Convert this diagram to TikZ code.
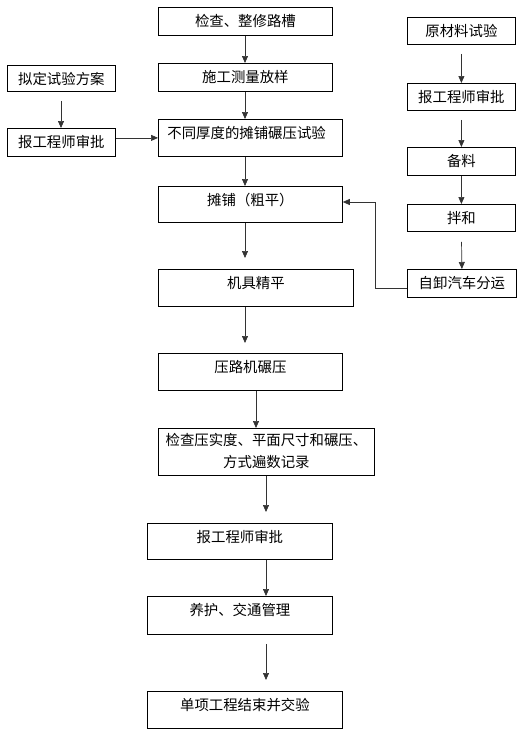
\documentclass[tikz,border=0pt]{standalone}
\usepackage{fontspec}
\setmainfont{Noto Sans CJK SC}
\usetikzlibrary{arrows.meta,calc}
\begin{document}
\begin{tikzpicture}[x=1pt,y=-1pt,
  box/.style={draw=black, line width=0.8pt, inner sep=0pt, anchor=north west, align=center,
    font=\fontsize{14.4}{22}\selectfont, text height=19pt},
  arr/.style={draw=black!80, line width=0.7pt, -{Triangle[length=7pt,width=6pt]}}]
\useasboundingbox (0,0) rectangle (523,734);
\coordinate (ca) at (245,0);
\coordinate (cb) at (256,0);
\coordinate (cc) at (266,0);
\coordinate (cl) at (61,0);
\coordinate (fb) at (375,202);
% main column
\node[box, minimum width=174pt, text depth=9pt] (n1) at (158,7) {检查、整修路槽};
\node[box, minimum width=174pt, text depth=9pt] (n2) at (158,63) {施工测量放样};
\node[box, minimum width=184pt, text depth=18pt, inner xsep=9pt, text width=166pt, align=left] (n3) at (158,119) {不同厚度的摊铺碾压试验};
\node[box, minimum width=184pt, text depth=17pt] (n4) at (158,186) {摊铺（粗平）};
\node[box, minimum width=195pt, text depth=18pt] (n5) at (158,269) {机具精平};
\node[box, minimum width=184pt, text depth=18pt] (n6) at (158,353) {压路机碾压};
\node[box, minimum width=216pt, text height=39pt, text depth=8pt] (n7) at (158,428) {检查压实度、平面尺寸和碾压、\\方式遍数记录};
\node[box, minimum width=185pt, text depth=17pt] (n8) at (147,523) {报工程师审批};
\node[box, minimum width=185pt, text depth=19pt] (n9) at (147,596) {养护、交通管理};
\node[box, minimum width=195pt, text depth=18pt] (n10) at (147,691) {单项工程结束并交验};
% left column
\node[box, minimum width=108pt, text depth=7pt] (l1) at (7,65) {拟定试验方案};
\node[box, minimum width=108pt, text depth=9pt] (l2) at (7,128) {报工程师审批};
% right column
\node[box, minimum width=108pt, text depth=8pt] (r1) at (407,17) {原材料试验};
\node[box, minimum width=108pt, text depth=8pt] (r2) at (407,83) {报工程师审批};
\node[box, minimum width=108pt, text depth=9pt] (r3) at (407,147) {备料};
\node[box, minimum width=108pt, text depth=8pt] (r4) at (407,204) {拌和};
\node[box, minimum width=109pt, text depth=9pt] (r5) at (407,269) {自卸汽车分运};
% arrows main
\draw[arr] (n1.south -| ca) -- (n2.north -| ca);
\draw[arr] (n2.south -| ca) -- (n3.north -| ca);
\draw[arr] (n3.south -| ca) -- (n4.north -| ca);
\draw[arr, shorten >=11pt] (n4.south -| ca) -- (n5.north -| ca);
\draw[arr, shorten >=10pt] (n5.south -| ca) -- (n6.north -| ca);
\draw[arr] (n6.south -| cb) -- (n7.north -| cb);
\draw[arr, shorten >=11pt] (n7.south -| cc) -- (n8.north -| cc);
\draw[arr] (n8.south -| cc) -- (n9.north -| cc);
\draw[arr, shorten <=9pt, shorten >=11pt] (n9.south -| cc) -- (n10.north -| cc);
% arrows left
\draw[arr, shorten <=9pt] (l1.south -| cl) -- (l2.north -| cl);
\draw[arr] (n3.west -| l2.east) -- (n3.west);
% arrows right
\draw[arr, shorten <=9pt] (r1.south) -- (r2.north);
\draw[arr, shorten <=9pt] (r2.south) -- (r3.north);
\draw[arr] (r3.south) -- (r4.north);
\draw[arr, shorten <=10pt] (r4.south) -- (r5.north);
\draw[arr] ($(r5.west)+(0,5)$) -| (fb) -- (n4.east |- fb);
\end{tikzpicture}
\end{document}
